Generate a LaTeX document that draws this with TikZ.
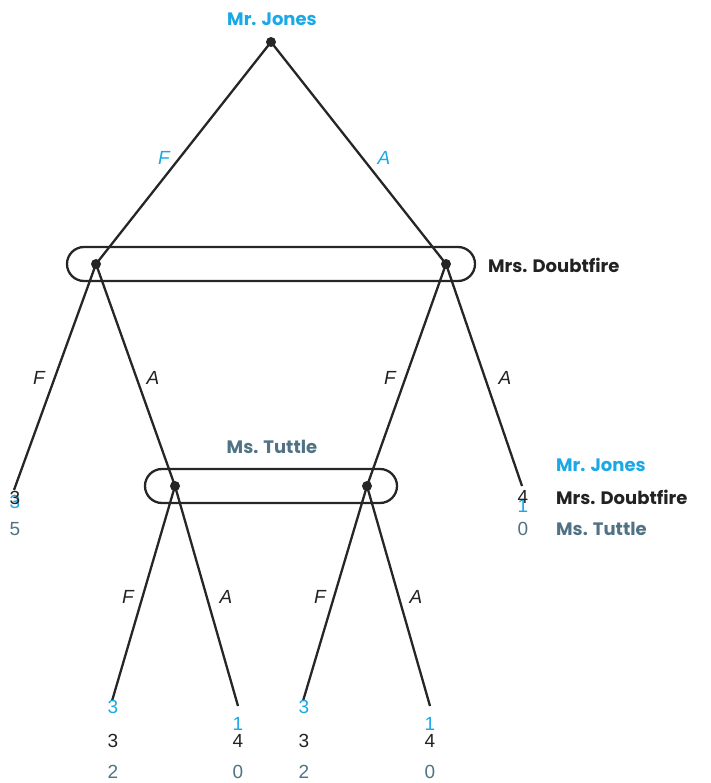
\documentclass[tikz,border=0pt]{standalone}
\usepackage{fontspec}
\setmainfont{Liberation Sans}
\newfontfamily\labfont{Poppins}
\begin{document}
\begin{tikzpicture}[x=1pt,y=-1pt,
  edge/.style={line width=2.3pt,black!85},
  dot/.style={circle,fill=black!85,inner sep=0pt,minimum size=10pt},
  infoset/.style={line width=2.3pt,black!85,rounded corners=17pt},
  plab/.style={font=\labfont\bfseries\fontsize{18}{20}\selectfont,inner sep=0pt,anchor=west},
  elab/.style={font=\itshape\fontsize{19}{20}\selectfont,inner sep=0pt},
  num/.style={font=\fontsize{19}{20}\selectfont,inner sep=0pt}]
\definecolor{jblue}{HTML}{1AA8E6}
\definecolor{tgray}{HTML}{4F7384}
\definecolor{dblack}{HTML}{222222}
\useasboundingbox (0,0) rectangle (710,783);
% information sets
\draw[infoset] (67,247) rectangle (475,281);
\draw[infoset] (145,469) rectangle (397,503);
% nodes
\node[dot] (r) at (271,42) {};
\node[dot] (d1) at (96,264) {};
\node[dot] (d2) at (446,264) {};
\node[dot] (t1) at (175,486) {};
\node[dot] (t2) at (367,486) {};
\coordinate (l1) at (14,490);
\coordinate (l2) at (522,486);
\coordinate (b1) at (112,701);
\coordinate (b2) at (238,706);
\coordinate (b3) at (303,701);
\coordinate (b4) at (430,706);
% edges
\draw[edge] (r.center) -- (d1.center);
\draw[edge] (r.center) -- (d2.center);
\draw[edge] (d1.center) -- (l1);
\draw[edge] (d1.center) -- (t1.center);
\draw[edge] (d2.center) -- (t2.center);
\draw[edge] (d2.center) -- (l2);
\draw[edge] (t1.center) -- (b1);
\draw[edge] (t1.center) -- (b2);
\draw[edge] (t2.center) -- (b3);
\draw[edge] (t2.center) -- (b4);
% player labels
\node[plab,text=jblue,anchor=center] (pj) at (272,19) {Mr. Jones};
\node[plab,text=dblack] (pd) at (488,265) {Mrs. Doubtfire};
\node[plab,text=tgray,anchor=center] (pt) at (272,447) {Ms. Tuttle};
% edge labels
\node[elab,text=jblue] (e1) at (164,158) {F};
\node[elab,text=jblue] (e2) at (384,158) {A};
\node[elab,text=dblack] (e3) at (39,378) {F};
\node[elab,text=dblack] (e4) at (153,378) {A};
\node[elab,text=dblack] (e5) at (390,378) {F};
\node[elab,text=dblack] (e6) at (505,378) {A};
\node[elab,text=dblack] (e7) at (128,597) {F};
\node[elab,text=dblack] (e8) at (226,597) {A};
\node[elab,text=dblack] (e9) at (320,597) {F};
\node[elab,text=dblack] (e10) at (416,597) {A};
% legend
\node[plab,text=jblue] (lj) at (556,465) {Mr. Jones};
\node[plab,text=dblack] (ld) at (556,497) {Mrs. Doubtfire};
\node[plab,text=tgray] (lt) at (556,529) {Ms. Tuttle};
% payoffs left leaf
\node[num,text=jblue] (p1a) at (15,502) {3};
\node[num,text=dblack] (p1b) at (15,498) {3};
\node[num,text=tgray] (p1c) at (15,529) {5};
% payoffs right leaf
\node[num,text=jblue] (p2a) at (523,506) {1};
\node[num,text=dblack] (p2b) at (523,497) {4};
\node[num,text=tgray] (p2c) at (523,529) {0};
% bottom payoffs
\node[num,text=jblue] (q1a) at (113,707) {3};
\node[num,text=dblack] (q1b) at (113,741) {3};
\node[num,text=tgray] (q1c) at (113,772) {2};
\node[num,text=jblue] (q2a) at (238,724) {1};
\node[num,text=dblack] (q2b) at (238,741) {4};
\node[num,text=tgray] (q2c) at (238,772) {0};
\node[num,text=jblue] (q3a) at (304,707) {3};
\node[num,text=dblack] (q3b) at (304,741) {3};
\node[num,text=tgray] (q3c) at (304,772) {2};
\node[num,text=jblue] (q4a) at (430,724) {1};
\node[num,text=dblack] (q4b) at (430,741) {4};
\node[num,text=tgray] (q4c) at (430,772) {0};
\end{tikzpicture}
\end{document}
